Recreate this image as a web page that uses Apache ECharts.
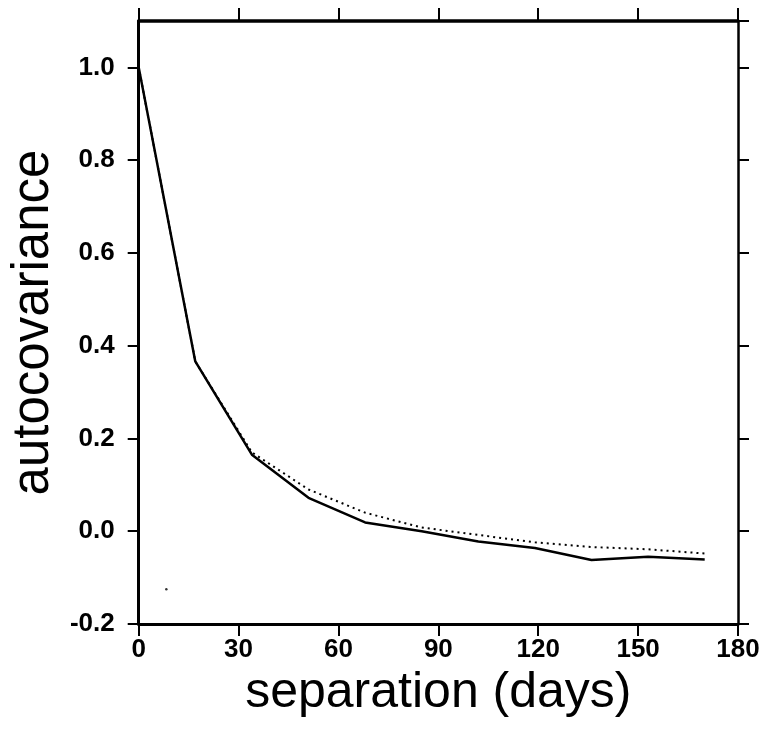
<!DOCTYPE html>
<html>
<head>
<meta charset="utf-8">
<script src="https://cdn.jsdelivr.net/npm/echarts@6/dist/echarts.min.js"></script>
<style>
html,body{margin:0;padding:0;background:#fff;}
#chart{width:766px;height:738px;}
</style>
</head>
<body>
<div id="chart"></div>
<script>
// separation (days) at which the autocovariance was computed
var separationDays = [0, 17, 34, 51, 68, 85, 102, 119, 136, 153, 170];
// solid curve
var solidValues = [1.0, 0.366, 0.165, 0.072, 0.019, 0.0, -0.022, -0.036, -0.062, -0.055, -0.061];
// dotted curve
var dottedValues = [1.0, 0.366, 0.170, 0.090, 0.040, 0.008, -0.008, -0.024, -0.034, -0.039, -0.048];
// small stray speck seen in the plot
var strayMark = [[8.3, -0.125]];
var xTicks = [0, 30, 60, 90, 120, 150, 180];
var yTicks = [-0.2, 0.0, 0.2, 0.4, 0.6, 0.8, 1.0];

var FONT = "'Liberation Sans', Arial, Helvetica, sans-serif";

function pairs(xs, ys) {
  return xs.map(function (x, i) { return [x, ys[i]]; });
}

var chart = echarts.init(document.getElementById('chart'), null, {renderer: 'canvas'});
chart.setOption({
  animation: false,
  backgroundColor: '#fff',
  grid: {left: 138, right: 28, top: 21, bottom: 114, containLabel: false},
  xAxis: [{
    type: 'value', position: 'bottom',
    min: xTicks[0], max: xTicks[xTicks.length - 1], interval: 30,
    name: 'separation (days)', nameLocation: 'middle', nameGap: 34,
    nameTextStyle: {fontFamily: FONT, fontSize: 50, color: '#000'},
    axisLine: {show: true, onZero: false, lineStyle: {color: '#000', width: 3}},
    axisTick: {show: true, length: 12, lineStyle: {color: '#000', width: 2}},
    axisLabel: {show: true, margin: 13, fontFamily: FONT, fontSize: 26, fontWeight: 'bold', color: '#000',
      formatter: function (v) { return String(v); }},
    splitLine: {show: false}
  }, {
    type: 'value', position: 'top',
    min: xTicks[0], max: xTicks[xTicks.length - 1], interval: 30,
    axisLine: {show: true, onZero: false, lineStyle: {color: '#000', width: 3.5}},
    axisTick: {show: true, length: 13, lineStyle: {color: '#000', width: 2}},
    axisLabel: {show: false},
    splitLine: {show: false}
  }],
  yAxis: [{
    type: 'value', position: 'left',
    min: yTicks[0], max: 1.1, interval: 0.2,
    name: 'autocovariance', nameLocation: 'middle', nameGap: 68, nameRotate: 90,
    nameTextStyle: {fontFamily: FONT, fontSize: 51, color: '#000'},
    axisLine: {show: true, onZero: false, lineStyle: {color: '#000', width: 3}},
    axisTick: {show: true, length: 11, lineStyle: {color: '#000', width: 2}},
    axisLabel: {show: true, margin: 24, fontFamily: FONT, fontSize: 26, fontWeight: 'bold', color: '#000',
      showMaxLabel: false,
      formatter: function (v) { return v > 1.05 ? '' : v.toFixed(1); }},
    splitLine: {show: false}
  }, {
    type: 'value', position: 'right',
    min: yTicks[0], max: 1.1, interval: 0.2,
    axisLine: {show: true, onZero: false, lineStyle: {color: '#000', width: 2.5}},
    axisTick: {show: true, length: 11, lineStyle: {color: '#000', width: 2}},
    axisLabel: {show: false},
    splitLine: {show: false}
  }],
  series: [{
    type: 'line', xAxisIndex: 0, yAxisIndex: 0,
    data: pairs(separationDays, dottedValues),
    symbol: 'none', silent: true,
    lineStyle: {color: '#000', width: 2, type: [2, 4]}
  }, {
    type: 'line', xAxisIndex: 0, yAxisIndex: 0,
    data: pairs(separationDays, solidValues),
    symbol: 'none', silent: true,
    lineStyle: {color: '#000', width: 2.5, type: 'solid'}
  }, {
    type: 'scatter', xAxisIndex: 0, yAxisIndex: 0,
    data: strayMark, symbol: 'circle', symbolSize: 2.5, silent: true,
    itemStyle: {color: '#000'}
  }]
});
</script>
</body>
</html>
